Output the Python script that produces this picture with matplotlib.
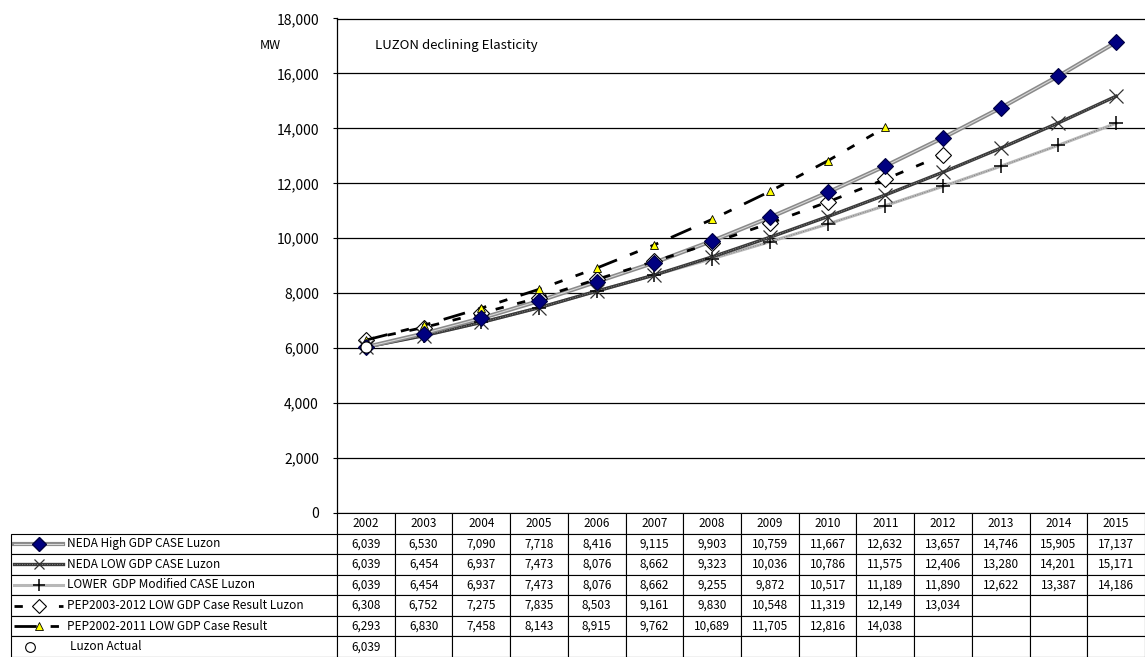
import matplotlib
matplotlib.use("Agg")
import matplotlib.pyplot as plt

plt.rcParams['font.family'] = ['Noto Sans CJK JP', 'DejaVu Sans']

years = [2002, 2003, 2004, 2005, 2006, 2007, 2008, 2009, 2010, 2011, 2012, 2013, 2014, 2015]

neda_high = [6039, 6530, 7090, 7718, 8416, 9115, 9903, 10759, 11667, 12632, 13657, 14746, 15905, 17137]
neda_low = [6039, 6454, 6937, 7473, 8076, 8662, 9323, 10036, 10786, 11575, 12406, 13280, 14201, 15171]
lower_mod = [6039, 6454, 6937, 7473, 8076, 8662, 9255, 9872, 10517, 11189, 11890, 12622, 13387, 14186]
pep2003 = [6308, 6752, 7275, 7835, 8503, 9161, 9830, 10548, 11319, 12149, 13034]
pep2002 = [6293, 6830, 7458, 8143, 8915, 9762, 10689, 11705, 12816, 14038]
luzon_actual = [6039]

row_labels = [
    "NEDA High GDP CASE Luzon",
    "NEDA LOW GDP CASE Luzon",
    "LOWER  GDP Modified CASE Luzon",
    "PEP2003-2012 LOW GDP Case Result Luzon",
    "PEP2002-2011 LOW GDP Case Result",
    "Luzon Actual",
]

W, H = 1145, 657
fig = plt.figure(figsize=(W / 100, H / 100), dpi=100)
ax = fig.add_axes([337 / W, (H - 513) / H, (W - 337) / W, (513 - 18.5) / H])

x = list(range(len(years)))

# series
ax.plot(x, lower_mod, color='#b8b8b8', lw=2.2, zorder=3)
ax.plot(x, lower_mod, color='#707070', lw=0.6, ls=(0, (1, 2)), zorder=3)
ax.plot(x, lower_mod, ls='none', marker='+', ms=10, mew=1.1, color='black', zorder=6)

ax.plot(x, neda_low, color='#3a3a3a', lw=2.4, zorder=3)
ax.plot(x, neda_low, color='#9a9a9a', lw=0.6, ls=(0, (1, 2)), zorder=3)
ax.plot(x, neda_low, ls='none', marker='x', ms=10, mew=0.9, color='#333333', zorder=6)

ax.plot(x, neda_high, color='#8a8a8a', lw=3, zorder=3)
ax.plot(x, neda_high, color='#d8d8d8', lw=0.8, zorder=3)
ax.plot(x, neda_high, ls='none', marker='D', ms=8.5, mfc='#000080', mec='#000040',
        mew=0.8, zorder=6)

ax.plot(x[:len(pep2003)], pep2003, color='black', lw=2, ls=(0, (3, 5)), marker='D', ms=8.5,
        mfc='white', mec='black', mew=0.8, zorder=5)

ax.plot(x[:len(pep2002)], pep2002, color='black', lw=2, ls=(0, (8, 5, 3, 5, 3, 5)),
        marker='^', ms=6, mfc='#ffff00', mec='black', mew=0.6, zorder=5)

ax.plot(x[:len(luzon_actual)], luzon_actual, ls='none', marker='o', ms=8,
        mfc='white', mec='black', mew=0.8, zorder=7)

ax.set_xlim(-0.5, len(years) - 0.5)
ax.set_ylim(0, 18000)
ax.set_yticks(range(0, 18001, 2000))
ax.set_yticklabels([f"{v:,}" for v in range(0, 18001, 2000)], fontsize=10)
ax.tick_params(axis='y', length=3, width=0.8, pad=10)
ax.set_xticks([])
ax.yaxis.grid(True, color='black', lw=0.9)
ax.set_axisbelow(True)
for side in ['right', 'bottom']:
    ax.spines[side].set_visible(False)
ax.spines['top'].set_linewidth(0.9)
ax.spines['left'].set_linewidth(0.9)

ax.text(-0.095, 0.945, "MW", transform=ax.transAxes, fontsize=9, va='center', ha='left')
ax.text(0.047, 0.945, "LUZON declining Elasticity", transform=ax.transAxes,
        fontsize=9.5, va='center', ha='left')

# data table (first column holds the legend labels, drawn separately)
all_series = [neda_high, neda_low, lower_mod, pep2003, pep2002, luzon_actual]
cell_text = []
for s in all_series:
    cell_text.append([""] + [f"{v:,}" for v in s] + [""] * (len(years) - len(s)))

axw = W - 337
axh = 513 - 18.5
col_w = 1 / len(years)
lab_w = (337 - 11) / axw
tbl_h = (657 - 513) / axh
tbl = ax.table(cellText=cell_text, colLabels=[""] + [str(y) for y in years],
               colWidths=[lab_w] + [col_w] * len(years),
               cellLoc='center', colLoc='center',
               bbox=[-lab_w, -tbl_h, 1 + lab_w, tbl_h])
tbl.auto_set_font_size(False)
tbl.set_fontsize(8.5)
for (r, c), cell in tbl.get_celld().items():
    cell.set_linewidth(0.8)
    cell.set_edgecolor('black')
    if r == 0 and c == 0:
        cell.visible_edges = 'R'

# legend swatches and labels in the first column
row_h = tbl_h / 7
sx0 = (14 - 337) / axw
sx1 = (63 - 337) / axw
sm = (39 - 337) / axw
tx = (67 - 337) / axw
for i in range(6):
    yy = -(1.5 + i) * row_h
    kw = dict(transform=ax.transAxes, clip_on=False)
    if i == 0:
        ax.plot([sx0, sx1], [yy, yy], color='#8a8a8a', lw=3, **kw)
        ax.plot([sx0, sx1], [yy, yy], color='#d8d8d8', lw=0.8, **kw)
        ax.plot([sm], [yy], marker='D', ms=7, mfc='#000080', mec='#000040', **kw)
    elif i == 1:
        ax.plot([sx0, sx1], [yy, yy], color='#3a3a3a', lw=2.4, **kw)
        ax.plot([sx0, sx1], [yy, yy], color='#9a9a9a', lw=0.6, ls=(0, (1, 2)), **kw)
        ax.plot([sm], [yy], marker='x', ms=7, mew=0.9, color='#333333', **kw)
    elif i == 2:
        ax.plot([sx0, sx1], [yy, yy], color='#b8b8b8', lw=2.2, **kw)
        ax.plot([sm], [yy], marker='+', ms=8, mew=1.1, color='black', **kw)
    elif i == 3:
        ax.plot([sx0, sx1], [yy, yy], color='black', lw=2, ls=(0, (3, 5)), **kw)
        ax.plot([sm], [yy], marker='D', ms=7, mfc='white', mec='black', mew=0.8, **kw)
    elif i == 4:
        ax.plot([sx0, sx1], [yy, yy], color='black', lw=2, ls=(0, (8, 5, 3, 5)), **kw)
        ax.plot([sm], [yy], marker='^', ms=6, mfc='#ffff00', mec='black', mew=0.6, **kw)
    else:
        ax.plot([(30 - 337) / axw], [yy], marker='o', ms=7, mfc='white', mec='black',
                mew=0.8, **kw)
    lx = tx if i < 5 else (70 - 337) / axw
    ax.text(lx, yy, row_labels[i], transform=ax.transAxes, fontsize=8.5,
            va='center', ha='left')

fig.savefig("out.png", dpi=100)
